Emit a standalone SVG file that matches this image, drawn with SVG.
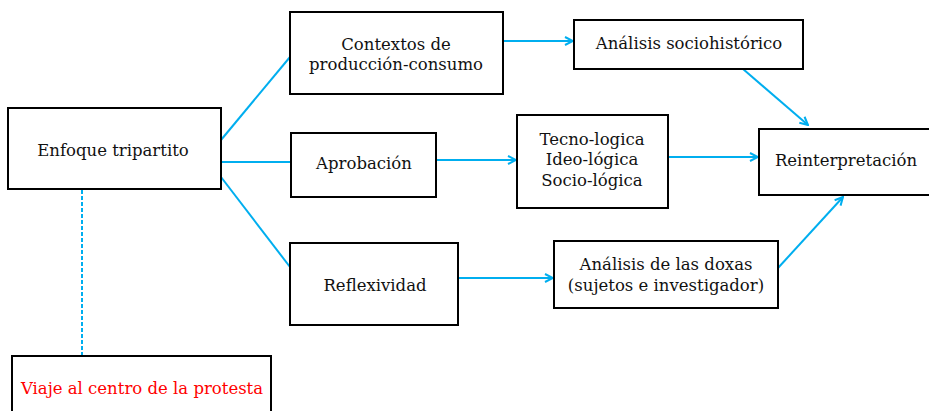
<svg xmlns="http://www.w3.org/2000/svg" width="929" height="411" viewBox="0 0 929 411">
<style>
.box{fill:#fff;stroke:#000;stroke-width:2}
.t{font-family:"DejaVu Serif","Liberation Serif",serif;font-size:16.5px;fill:#111;text-anchor:middle}
.red{fill:#f00}
.c{stroke:#00aeef;stroke-width:2;fill:none}
</style>
<defs>
<marker id="a" viewBox="0 0 10 10" refX="9" refY="5" markerWidth="5" markerHeight="5" orient="auto" markerUnits="strokeWidth">
<polyline points="1,1 9,5 1,9" fill="none" stroke="#00aeef" stroke-width="2"/>
</marker>
</defs>
<g id="connectors">
<line class="c" x1="221" y1="140" x2="290" y2="57"/>
<line class="c" x1="221" y1="162" x2="291" y2="162"/>
<line class="c" x1="221" y1="177" x2="290" y2="267"/>
<line class="c" x1="503" y1="41" x2="573" y2="41" marker-end="url(#a)"/>
<line class="c" x1="436" y1="160" x2="516" y2="160" marker-end="url(#a)"/>
<line class="c" x1="668" y1="157" x2="758" y2="157" marker-end="url(#a)"/>
<line class="c" x1="458" y1="278" x2="553" y2="278" marker-end="url(#a)"/>
<line class="c" x1="743" y1="69" x2="808" y2="125" marker-end="url(#a)"/>
<line class="c" x1="778" y1="268" x2="843" y2="197" marker-end="url(#a)"/>
<line class="c" x1="82" y1="190" x2="82" y2="356" stroke-width="1.5" stroke-dasharray="4,2"/>
</g>
<g id="enfoque">
<rect class="box" x="8" y="108" width="213" height="81"/>
<text class="t" x="113" y="156">Enfoque tripartito</text>
</g>
<g id="contextos">
<rect class="box" x="290" y="12" width="213" height="82"/>
<text class="t" x="396" y="50">Contextos de</text>
<text class="t" x="396" y="70">producción-consumo</text>
</g>
<g id="sociohistorico">
<rect class="box" x="574" y="20" width="229" height="49"/>
<text class="t" x="689" y="49">Análisis sociohistórico</text>
</g>
<g id="aprobacion">
<rect class="box" x="291" y="133" width="145" height="64"/>
<text class="t" x="364" y="169">Aprobación</text>
</g>
<g id="logicas">
<rect class="box" x="517" y="115" width="151" height="93"/>
<text class="t" x="592" y="145">Tecno-logica</text>
<text class="t" x="592" y="165">Ideo-lógica</text>
<text class="t" x="592" y="186">Socio-lógica</text>
</g>
<g id="reinterpretacion">
<rect class="box" x="759" y="129" width="172" height="66"/>
<text class="t" x="846" y="166">Reinterpretación</text>
</g>
<g id="reflexividad">
<rect class="box" x="290" y="243" width="168" height="82"/>
<text class="t" x="375" y="291">Reflexividad</text>
</g>
<g id="doxas">
<rect class="box" x="554" y="241" width="224" height="67"/>
<text class="t" x="666" y="270">Análisis de las doxas</text>
<text class="t" x="666" y="291">(sujetos e investigador)</text>
</g>
<g id="viaje">
<rect class="box" x="12" y="356" width="259" height="60"/>
<text class="t red" x="142" y="394">Viaje al centro de la protesta</text>
</g>
</svg>
